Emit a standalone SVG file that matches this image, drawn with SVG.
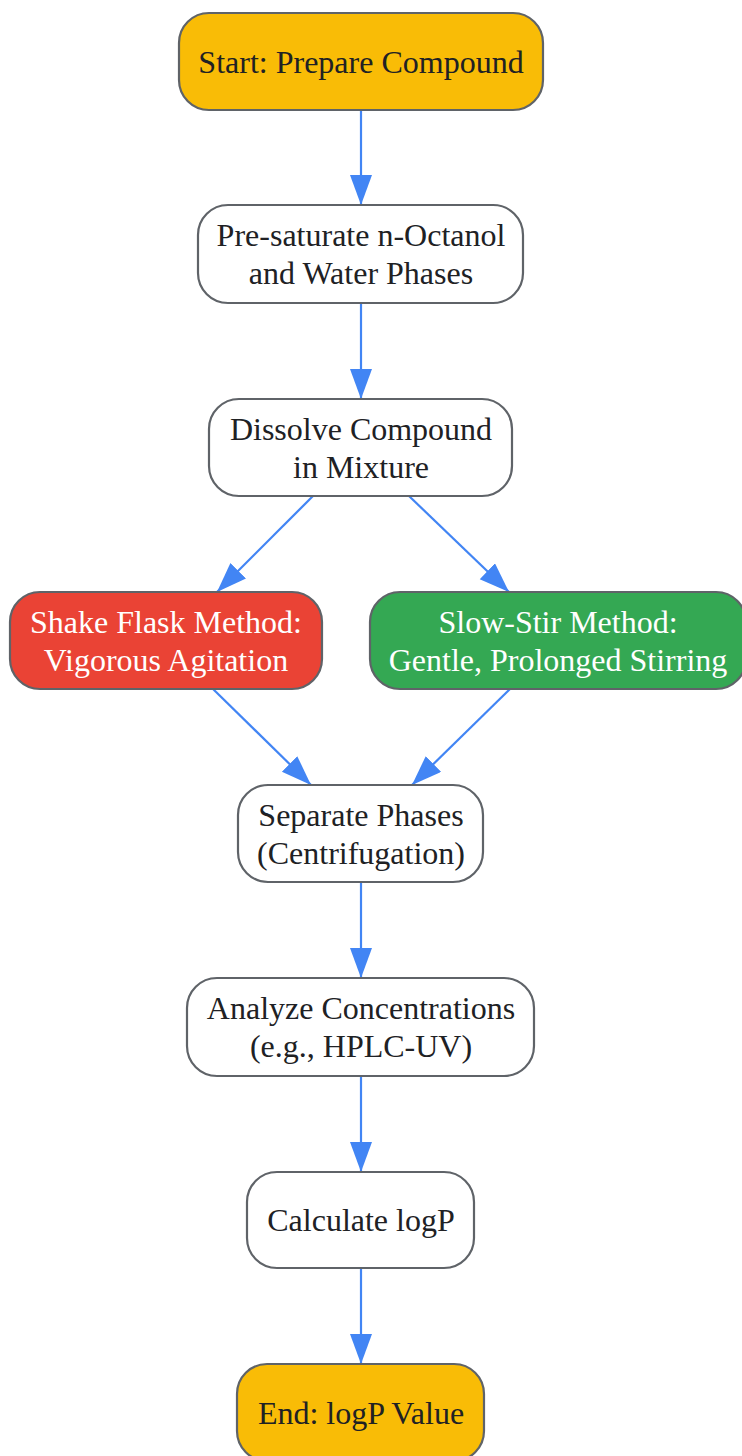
<svg xmlns="http://www.w3.org/2000/svg" width="742" height="1456" viewBox="0 0 742 1456">
<style>
.box{stroke:#5f6368;stroke-width:2.2}
.w{fill:#ffffff}
.y{fill:#f9bc06}
.r{fill:#ea4335}
.g{fill:#34a853}
text{font-family:"Liberation Serif","Times New Roman",serif;font-size:32px;text-anchor:middle;fill:#202124}
text.lt{fill:#ffffff}
.edge{stroke:#4285f4;stroke-width:2.2;fill:none}
</style>
<defs>
<marker id="arr" markerUnits="userSpaceOnUse" markerWidth="32" markerHeight="24" refX="30" refY="11" orient="auto">
<path d="M0,0 L30,11 L0,22 Z" fill="#4285f4"/>
</marker>
</defs>
<g id="edges">
<line class="edge" x1="361" y1="110" x2="361" y2="205" marker-end="url(#arr)"/>
<line class="edge" x1="361" y1="303" x2="361" y2="399" marker-end="url(#arr)"/>
<line class="edge" x1="313" y1="496" x2="217" y2="592" marker-end="url(#arr)"/>
<line class="edge" x1="409" y1="496" x2="509" y2="592" marker-end="url(#arr)"/>
<line class="edge" x1="213" y1="689" x2="311" y2="785" marker-end="url(#arr)"/>
<line class="edge" x1="510" y1="689" x2="412" y2="785" marker-end="url(#arr)"/>
<line class="edge" x1="361" y1="882" x2="361" y2="978" marker-end="url(#arr)"/>
<line class="edge" x1="361" y1="1076" x2="361" y2="1172" marker-end="url(#arr)"/>
<line class="edge" x1="361" y1="1268" x2="361" y2="1364" marker-end="url(#arr)"/>
</g>
<g id="start">
<rect class="box y" x="179" y="13" width="364" height="97" rx="30"/>
<text x="361" y="73">Start: Prepare Compound</text>
</g>
<g id="presat">
<rect class="box w" x="198" y="205" width="325" height="98" rx="30"/>
<text x="361" y="246">Pre-saturate n-Octanol</text>
<text x="361" y="284">and Water Phases</text>
</g>
<g id="dissolve">
<rect class="box w" x="209" y="399" width="303" height="97" rx="30"/>
<text x="361" y="440">Dissolve Compound</text>
<text x="361" y="478">in Mixture</text>
</g>
<g id="shake">
<rect class="box r" x="10" y="592" width="312" height="97" rx="30"/>
<text class="lt" x="166" y="633">Shake Flask Method:</text>
<text class="lt" x="166" y="671">Vigorous Agitation</text>
</g>
<g id="slowstir">
<rect class="box g" x="370" y="592" width="376" height="97" rx="30"/>
<text class="lt" x="558" y="633">Slow-Stir Method:</text>
<text class="lt" x="558" y="671">Gentle, Prolonged Stirring</text>
</g>
<g id="separate">
<rect class="box w" x="238" y="785" width="245" height="97" rx="30"/>
<text x="361" y="826">Separate Phases</text>
<text x="361" y="864">(Centrifugation)</text>
</g>
<g id="analyze">
<rect class="box w" x="187" y="978" width="347" height="98" rx="30"/>
<text x="361" y="1019">Analyze Concentrations</text>
<text x="361" y="1057">(e.g., HPLC-UV)</text>
</g>
<g id="calculate">
<rect class="box w" x="247" y="1172" width="227" height="96" rx="30"/>
<text x="361" y="1231">Calculate logP</text>
</g>
<g id="end">
<rect class="box y" x="237" y="1364" width="247" height="97" rx="30"/>
<text x="361" y="1424">End: logP Value</text>
</g>
</svg>
